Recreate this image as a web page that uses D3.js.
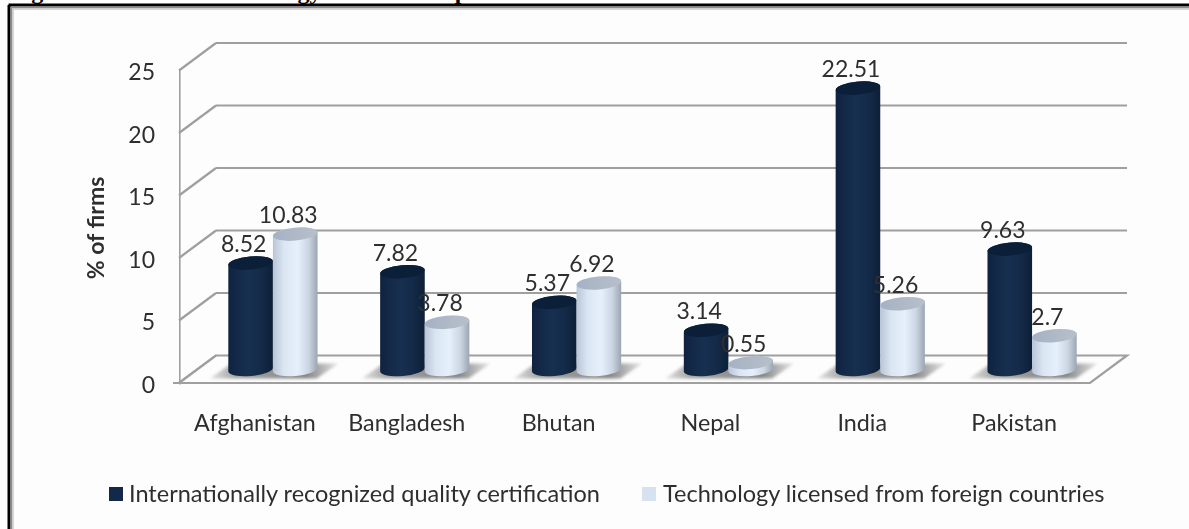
<!DOCTYPE html>
<html><head><meta charset="utf-8">
<script src="https://cdn.jsdelivr.net/npm/d3@7/dist/d3.min.js"></script>
<style>html,body{margin:0;padding:0;background:#fdfdfd;overflow:hidden}svg{display:block}
text{font-family:Lato,"Open Sans",sans-serif;fill:#2f2f2f}</style></head>
<body><svg id="c" width="1189" height="529"></svg>
<script>
const countries=["Afghanistan","Bangladesh","Bhutan","Nepal","India","Pakistan"];
const certification=[8.52,7.82,5.37,3.14,22.51,9.63];
const licensed=[10.83,3.78,6.92,0.55,5.26,2.7];
const certLabels=["8.52","7.82","5.37","3.14","22.51","9.63"];
const licLabels=["10.83","3.78","6.92","0.55","5.26","2.7"];
const yTicks=[0,5,10,15,20,25];
const seriesNames=["Internationally recognized quality certification","Technology licensed from foreign countries"];

const svg=d3.select("#c");
const x=d3.scaleBand().domain(countries).range([179,1090]);
const y=d3.scaleLinear().domain([0,25]).range([383,70.5]);
const depthX=37, depthY=-27.5, midX=18, midY=-13.5, rx=22.3, ry=6.5, rot=-5;
const tilt=rx*Math.sin(rot*Math.PI/180);
const defs=svg.append("defs");
function grad(id,stops,x2=1,y2=0){
  const g=defs.append("linearGradient").attr("id",id).attr("x1",0).attr("y1",0).attr("x2",x2).attr("y2",y2);
  stops.forEach(s=>g.append("stop").attr("offset",s[0]).attr("stop-color",s[1]));
}
grad("darkBody",[[0,"#0f2340"],[.45,"#17304f"],[.7,"#142b4a"],[1,"#0e2038"]]);
grad("lightBody",[[0,"#b9c6d8"],[.25,"#dbe6f3"],[.55,"#e6f0fc"],[.8,"#ccd6e2"],[1,"#9ca6b3"]]);
grad("lightCap",[[0,"#a5b2c4"],[1,"#b7bfca"]]);
grad("shadow",[[0,"#e6e6e6"],[.2,"#a2a2a2"],[.75,"#858585"],[1,"#e6e6e6"]]);
defs.append("filter").attr("id","soft").attr("x","-20%").attr("y","-40%").attr("width","140%").attr("height","180%")
  .append("feGaussianBlur").attr("stdDeviation",1.5);
defs.append("filter").attr("id","blurText").append("feGaussianBlur").attr("stdDeviation",0.35);
defs.append("filter").attr("id","blurLine").attr("filterUnits","userSpaceOnUse").attr("x",0).attr("y",0).attr("width",1189).attr("height",529)
  .append("feGaussianBlur").attr("stdDeviation",0.5);

// frame and clipped title
const title=svg.append("text").attr("y",-1).style("font-family","'Liberation Serif',serif").style("font-weight","bold").style("font-size","24px").style("fill","#000");
title.append("tspan").attr("x",10).text("Figure");
title.append("tspan").attr("x",205).text("Technology");
title.append("tspan").attr("x",412).text("Adoption");
[[5,"#000",3],[7.5,"#8c8c8c",1.5],[9,"#c8c8c8",1.5]].forEach(([o,c,w])=>{
  svg.append("line").attr("x1",o+3.5).attr("x2",1189).attr("y1",o).attr("y2",o).attr("stroke",c).attr("stroke-width",w);
  svg.append("line").attr("x1",o+4).attr("x2",o+4).attr("y1",o).attr("y2",529).attr("stroke",c).attr("stroke-width",w);
});

// walls
const grid=svg.append("g").attr("fill","none").attr("stroke","#9f9f9f").attr("stroke-width",2.2).attr("filter","url(#blurLine)");
yTicks.forEach(t=>{
  if(t>0) grid.append("line").attr("x1",179+depthX).attr("x2",1090+depthX).attr("y1",y(t)+depthY).attr("y2",y(t)+depthY);
  grid.append("line").attr("x1",179).attr("x2",179+depthX).attr("y1",y(t)).attr("y2",y(t)+depthY);
});
// floor
svg.append("polygon").attr("fill","#fdfdfd").attr("stroke","#9f9f9f").attr("stroke-width",2.2).attr("filter","url(#blurLine)")
  .attr("points",[[179,y(0)],[179+depthX,y(0)+depthY],[1090+depthX,y(0)+depthY],[1090,y(0)]].join(" "));

// y axis
const yAxis=d3.axisLeft(y).tickValues(yTicks).tickSize(6).tickPadding(18);
const ya=svg.append("g").attr("transform","translate(179,0)").call(yAxis);
ya.selectAll("path,line").attr("stroke","#9f9f9f").attr("stroke-width",2.2).attr("filter","url(#blurLine)");
ya.selectAll("text").attr("dy","0.4em").style("font-size","23px").style("font-family","Lato").attr("filter","url(#blurText)");
svg.append("line").attr("x1",173).attr("x2",1090).attr("y1",y(0)).attr("y2",y(0)).attr("stroke","#9f9f9f").attr("stroke-width",2.2).attr("filter","url(#blurLine)");

// x axis
const xa=svg.append("g").attr("transform","translate(0,"+y(0)+")").call(d3.axisBottom(x).tickSize(0).tickPadding(31));
xa.select("path").remove();
xa.selectAll("text").style("font-size","23.3px").style("font-family","Lato").attr("filter","url(#blurText)");

svg.append("text").attr("transform","translate(104,228) rotate(-90)").attr("text-anchor","middle")
  .style("font-size","23px").style("font-weight","bold").attr("filter","url(#blurText)").text("% of firms");

// bars
const marks=svg.append("g");
const dataRows=countries.map((c,i)=>({c,i,a:certification[i],b:licensed[i]}));
const cxA=d=>x(d.c)+x.bandwidth()/2+midX-22.3, cxB=d=>x(d.c)+x.bandwidth()/2+midX+22.3;
marks.selectAll(".sh").data(dataRows).join("polygon").attr("class","sh").attr("fill","url(#shadow)").attr("filter","url(#soft)")
  .attr("points",d=>{const l=cxA(d)-22,b=y(0)+midY;return [[l-19,b+9],[l+3,b-6],[l+110,b-6],[l+88,b+9]].join(" ")});
function cyl(cx,top,body,cap){
  const base=y(0)+midY;
  const g=marks.append("g");
  g.append("path").attr("fill",body).attr("d",`M${cx-rx},${top-tilt}L${cx-rx},${base-tilt}A${rx},${ry} ${rot} 0 0 ${cx+rx},${base+tilt}L${cx+rx},${top+tilt}A${rx},${ry} ${rot} 0 0 ${cx-rx},${top-tilt}Z`);
  g.append("ellipse").attr("cx",cx).attr("cy",top).attr("rx",rx).attr("ry",ry).attr("fill",cap).attr("transform",`rotate(${rot} ${cx} ${top})`);
}
dataRows.forEach(d=>cyl(cxA(d),y(d.a)+midY,"url(#darkBody)","#0b1f39"));
dataRows.forEach(d=>cyl(cxB(d),y(d.b)+midY,"url(#lightBody)","url(#lightCap)"));

// value labels
const lab=svg.append("g").attr("text-anchor","middle").style("font-size","23px").attr("filter","url(#blurText)");
dataRows.forEach(d=>{
  lab.append("text").attr("x",cxA(d)-7).attr("y",y(d.a)+midY-11).text(certLabels[d.i]);
  lab.append("text").attr("x",cxB(d)-7).attr("y",y(d.b)+midY-11).text(licLabels[d.i]);
});

// legend
const lg=svg.append("g");
[[109,129,"#12294a"],[642,663,"#d6e2f0"]].forEach(([sx,tx,col],i)=>{
  lg.append("rect").attr("x",sx).attr("y",487).attr("width",14).attr("height",14).attr("fill",col);
  lg.append("text").attr("x",tx).attr("y",502).style("font-size","23.5px").attr("filter","url(#blurText)").text(seriesNames[i]);
});
</script></body></html>
